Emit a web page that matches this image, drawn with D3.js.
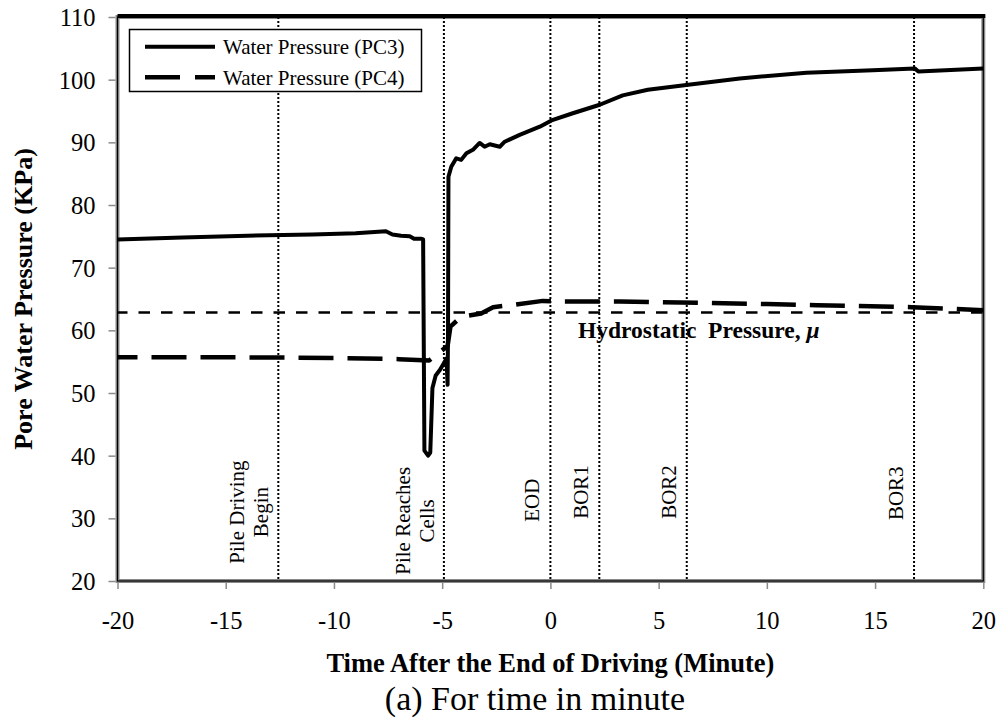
<!DOCTYPE html>
<html>
<head>
<meta charset="utf-8">
<script src="https://cdn.jsdelivr.net/npm/d3@7"></script>
<style>
  html, body { margin: 0; padding: 0; background: #fff; }
  svg { display: block; font-family: "Liberation Serif", "Times New Roman", serif; }
</style>
</head>
<body>
<svg id="chart" width="1002" height="719"></svg>
<script>
// Pore water pressure records, time in minutes after end of driving
const pc3Time = [-20, -17, -14, -11, -9, -7.6, -7.3, -6.9, -6.5, -6.3, -5.95, -5.88, -5.82, -5.65, -5.55, -5.45, -5.3, -5.1, -4.95, -4.8, -4.75, -4.73, -4.71, -4.58, -4.35, -4.12, -3.88, -3.58, -3.27, -3.04, -2.8, -2.34, -2.11, -1.42, -0.49, 0.05, 1.0, 2.28, 3.34, 4.5, 6.28, 8.75, 11.83, 14.9, 16.83, 17.0, 17.5, 20];
const pc3Value = [74.5, 74.8, 75.1, 75.3, 75.5, 75.8, 75.3, 75.1, 75.0, 74.6, 74.6, 74.5, 40.8, 40.0, 40.5, 50.8, 52.8, 53.7, 54.6, 55.5, 51.3, 60.0, 84.5, 86.1, 87.45, 87.2, 88.25, 88.8, 89.9, 89.3, 89.7, 89.3, 90.1, 91.2, 92.5, 93.5, 94.6, 96.0, 97.5, 98.4, 99.15, 100.2, 101.1, 101.5, 101.8, 101.3, 101.4, 101.8];

const pc4Time = [-20, -15, -10, -7, -5.6, -4.75, -4.62, -4.3, -4.04, -3.2, -2.65, -1.88, -0.35, 0.43, 3.2, 7, 10, 12.3, 16.7, 20];
const pc4Value = [55.7, 55.7, 55.6, 55.4, 55.2, 57.5, 60.6, 61.6, 62.2, 62.7, 63.7, 64.0, 64.7, 64.6, 64.6, 64.4, 64.2, 64.0, 63.7, 63.2];

const hydrostatic = 62.85;

// Driving / restrike events
const eventTime = [-12.57, -4.92, 0, 2.26, 6.3, 16.8];
const eventLabel = [["Pile Driving", "Begin"], ["Pile Reaches", "Cells"], ["EOD"], ["BOR1"], ["BOR2"], ["BOR3"]];
const eventLabelCenter = [31.0, 29.6, 32.9, 34.2, 34.2, 34.0];

const xTicks = [-20, -15, -10, -5, 0, 5, 10, 15, 20];
const yTicks = [20, 30, 40, 50, 60, 70, 80, 90, 100, 110];

const seriesNames = ["Water Pressure (PC3)", "Water Pressure (PC4)"];

const svg = d3.select("#chart");
const plotL = 117.5, plotR = 983.3, plotT = 17, plotB = 581;

const x = d3.scaleLinear().domain([-20, 20]).range([plotL, plotR]);
const y = d3.scaleLinear().domain([20, 110]).range([plotB, plotT]);

// plot frame
svg.append("rect").attr("x", plotL).attr("y", plotT).attr("width", plotR - plotL).attr("height", plotB - plotT)
  .attr("fill", "none").attr("stroke", "#8a8a8a").attr("stroke-width", 4);
svg.append("rect").attr("x", plotL).attr("y", plotT).attr("width", plotR - plotL).attr("height", plotB - plotT)
  .attr("fill", "none").attr("stroke", "#000").attr("stroke-width", 1.2);
svg.append("line").attr("x1", plotL).attr("x2", plotR + 2).attr("y1", plotT - 1).attr("y2", plotT - 1)
  .attr("stroke", "#000").attr("stroke-width", 4);

// axes (plain hyphen for negatives)
const fmt = d => String(d);
const yAxis = svg.append("g").attr("transform", `translate(${plotL - 2},0)`)
  .call(d3.axisLeft(y).tickValues(yTicks).tickSize(7).tickPadding(13).tickFormat(fmt));
const xAxis = svg.append("g").attr("transform", `translate(0,${plotB + 2})`)
  .call(d3.axisBottom(x).tickValues(xTicks).tickSize(6).tickPadding(23).tickFormat(fmt));
[yAxis, xAxis].forEach(g => {
  g.select(".domain").remove();
  g.selectAll(".tick line").attr("stroke", "#8a8a8a").attr("stroke-width", 1.5);
  g.selectAll(".tick text").attr("fill", "#000").style("font-size", "24.5px")
    .style("font-family", '"Liberation Serif", "Times New Roman", serif');
});
yAxis.selectAll(".tick text").attr("dy", "0.34em");

// event markers
eventTime.forEach((t, i) => {
  svg.append("line").attr("x1", x(t)).attr("x2", x(t)).attr("y1", plotT).attr("y2", plotB)
    .attr("stroke", "#000").attr("stroke-width", 2).attr("stroke-dasharray", "2,2");
  const lines = eventLabel[i];
  const cy = y(eventLabelCenter[i]);
  lines.forEach((txt, j) => {
    const off = lines.length === 2 ? (j === 0 ? -34 : -10) : -11;
    svg.append("text")
      .attr("transform", `translate(${x(t) + off},${cy}) rotate(-90)`)
      .attr("text-anchor", "middle")
      .style("font-size", "21px")
      .text(txt);
  });
});

// hydrostatic line
svg.append("line").attr("x1", x(-20)).attr("x2", x(20)).attr("y1", y(hydrostatic)).attr("y2", y(hydrostatic))
  .attr("stroke", "#000").attr("stroke-width", 2.6)
  .attr("stroke-dasharray", "11.5,11").attr("stroke-dashoffset", 1.5);

const line = d3.line().x(d => x(d[0])).y(d => y(d[1]));
const pc3 = pc3Time.map((t, i) => [t, pc3Value[i]]);
const pc4 = pc4Time.map((t, i) => [t, pc4Value[i]]);

svg.append("path").datum(pc4).attr("d", line).attr("fill", "none")
  .attr("stroke", "#000").attr("stroke-width", 4.5)
  .attr("stroke-dasharray", "35,14").attr("stroke-dashoffset", 15)
  .attr("stroke-linejoin", "round");
svg.append("path").datum(pc3).attr("d", line).attr("fill", "none")
  .attr("stroke", "#000").attr("stroke-width", 4).attr("stroke-linejoin", "round");

// hydrostatic annotation
const ann = svg.append("text").attr("x", 578).attr("y", 338)
  .style("font-size", "23.5px").style("font-weight", "bold").style("white-space", "pre");
ann.append("tspan").text("Hydrostatic  Pressure, ");
ann.append("tspan").style("font-style", "italic").text("μ");

// legend
const lg = svg.append("g");
lg.append("rect").attr("x", 129.5).attr("y", 29.5).attr("width", 292).attr("height", 62)
  .attr("fill", "#fff").attr("stroke", "#000").attr("stroke-width", 1.5);
[0, 1].forEach(i => {
  const ly = 46.7 + i * 30.6;
  lg.append("line").attr("x1", 145).attr("x2", 215).attr("y1", ly).attr("y2", ly)
    .attr("stroke", "#000").attr("stroke-width", i === 0 ? 4 : 4.5)
    .attr("stroke-dasharray", i === 0 ? null : "35,15");
  lg.append("text").attr("x", 223).attr("y", ly).attr("dy", "0.35em")
    .style("font-size", "21px").text(seriesNames[i]);
});

// axis titles
svg.append("text").attr("transform", `translate(32,${(plotT + plotB) / 2}) rotate(-90)`)
  .attr("text-anchor", "middle").style("font-size", "26px").style("font-weight", "bold")
  .text("Pore Water Pressure (KPa)");
svg.append("text").attr("x", (plotL + plotR) / 2).attr("y", 672)
  .attr("text-anchor", "middle").style("font-size", "26.5px").style("font-weight", "bold")
  .text("Time After the End of Driving (Minute)");
svg.append("text").attr("x", 535).attr("y", 710)
  .attr("text-anchor", "middle").style("font-size", "34px")
  .text("(a) For time in minute");
</script>
</body>
</html>
